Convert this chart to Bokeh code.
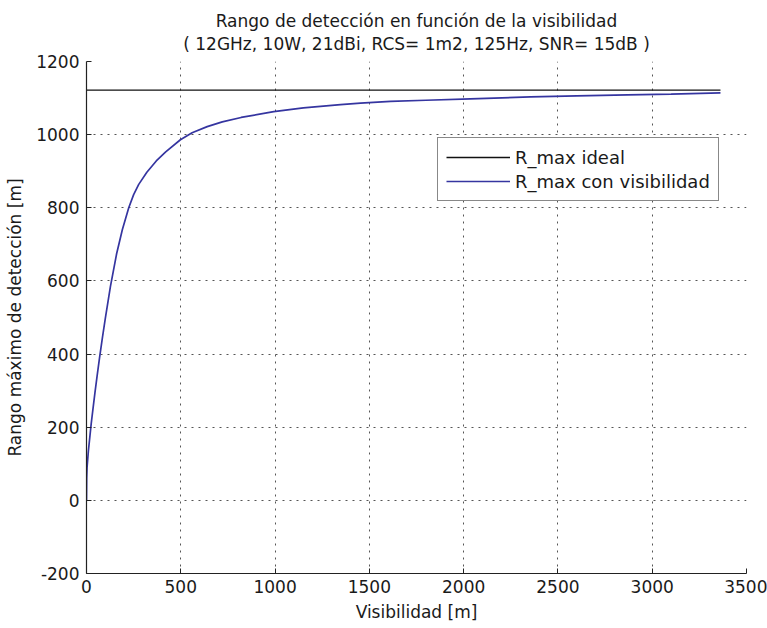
from bokeh.plotting import figure
from bokeh.models import Range1d, Legend, LegendItem, FixedTicker, CustomJSTickFormatter
from bokeh.embed import file_html
from bokeh.resources import INLINE

# ---- data ----
title_lines = ["Rango de detección en función de la visibilidad",
               "( 12GHz, 10W, 21dBi, RCS= 1m2, 125Hz, SNR= 15dB )"]
x_label = "Visibilidad [m]"
y_label = "Rango máximo de detección [m]"
x_ticks = [0, 500, 1000, 1500, 2000, 2500, 3000, 3500]
y_ticks = [-200, 0, 200, 400, 600, 800, 1000, 1200]

# R_max ideal (constant)
vis_ideal = [0, 3362]
r_ideal = [1122, 1122]

# R_max con visibilidad
vis = [0, 1, 3, 10, 18, 25, 35, 45, 57, 70, 85, 100, 127, 160, 190, 224, 250,
       277, 320, 370, 420, 498, 560, 640, 720, 820, 993, 1150, 1347, 1453,
       1612, 1800, 2036, 2354, 2600, 2869, 3100, 3362]
r_vis = [0, 60, 90, 135, 175, 210, 253, 295, 343, 393, 447, 498, 585, 675, 740,
         800, 836, 864, 897, 928, 953, 986, 1005, 1022, 1035, 1047, 1063, 1073,
         1082, 1086, 1091, 1094, 1098, 1103, 1106, 1109, 1111, 1114]

legend_labels = ["R_max ideal", "R_max con visibilidad"]

FONT = "DejaVu Sans"
TXT = "#1a1a1a"

p = figure(width=767, height=628, output_backend="svg", toolbar_location=None,
           x_range=Range1d(0, 3500), y_range=Range1d(-200, 1200),
           min_border_left=86, min_border_right=21, min_border_top=61,
           min_border_bottom=55, background_fill_color="white",
           border_fill_color="white")
p.outline_line_color = None

# two-line title; the shorter first line is indented with no-break spaces so
# that both lines appear centred over the frame
p.title.text = "\u00a0" * 6 + title_lines[0] + "\n" + title_lines[1]
p.title.align = "center"
p.title.text_font = FONT
p.title.text_font_size = "17px"
p.title.text_font_style = "normal"
p.title.text_color = TXT
p.title.text_line_height = 1.18
p.title.standoff = 14

r1 = p.line(vis_ideal, r_ideal, color="#111111", line_width=1.3)
r2 = p.line(vis, r_vis, color="#3535a0", line_width=1.7)

fmt = CustomJSTickFormatter(code="return tick.toString();")
for ax in (p.xaxis[0], p.yaxis[0]):
    ax.axis_line_color = "#222222"
    ax.axis_line_width = 1.2
    ax.major_tick_in = 5
    ax.major_tick_out = 0
    ax.major_tick_line_color = "#222222"
    ax.minor_tick_line_color = None
    ax.major_label_text_font = FONT
    ax.major_label_text_font_size = "17px"
    ax.major_label_text_color = TXT
    ax.axis_label_text_font = FONT
    ax.axis_label_text_font_size = "17px"
    ax.axis_label_text_font_style = "normal"
    ax.axis_label_text_color = TXT
    ax.formatter = fmt

p.xaxis.ticker = FixedTicker(ticks=x_ticks)
p.yaxis.ticker = FixedTicker(ticks=y_ticks)
p.xaxis.axis_label = x_label
p.yaxis.axis_label = y_label
p.xaxis.major_label_standoff = 6
p.yaxis.major_label_standoff = 7
p.xaxis.axis_label_standoff = 6
p.yaxis.axis_label_standoff = 8

for g in (p.xgrid[0], p.ygrid[0]):
    g.grid_line_color = "#555555"
    g.grid_line_dash = "2 5"
    g.grid_line_width = 1

legend = Legend(items=[LegendItem(label=legend_labels[0], renderers=[r1]),
                       LegendItem(label=legend_labels[1], renderers=[r2])],
                location=(351, 372), orientation="vertical",
                border_line_color="#111111", border_line_width=1.2,
                background_fill_color="white", background_fill_alpha=1.0,
                padding=8, spacing=2, margin=0, label_height=22,
                glyph_height=22, glyph_width=64, label_standoff=5,
                label_text_font=FONT, label_text_font_size="18px",
                label_text_color=TXT)
p.add_layout(legend, "center")

open("out.html", "w").write(file_html(p, INLINE))
